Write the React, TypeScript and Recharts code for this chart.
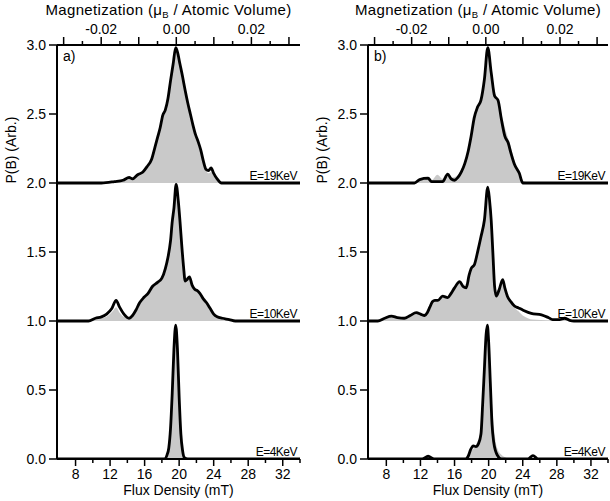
import React from "react";
import { ComposedChart, Area, Line, XAxis, YAxis, ReferenceLine } from "recharts";

type Pt = [number, number];

// axes
const fluxDomain: [number, number] = [5.85, 34];
const fluxTicks = [8, 10, 12, 14, 16, 18, 20, 22, 24, 26, 28, 30, 32, 34];
const fluxLabels = [8, 12, 16, 20, 24, 28, 32];
const magZeroFlux = 19.67; // mT where M = 0
const fluxPerMag = 435; // mT per (muB / atomic volume)
const magTicks = [-0.03, -0.025, -0.02, -0.015, -0.01, -0.005, 0, 0.005, 0.01, 0.015, 0.02, 0.025, 0.03];
const magLabels = [-0.02, 0, 0.02];
const pbTicks = [0, 0.5, 1, 1.5, 2, 2.5, 3];
const energyLabels = ["E=19KeV", "E=10KeV", "E=4KeV"];
const offsets = [2, 1, 0];

// panel a) : gray fill + black measured line, [flux mT, P(B)]
const a19Fill: Pt[] = [[5.85, 0], [11, 0], [12.5, 0.01], [13.5, 0.015], [14.3, 0.03], [15.2, 0.05], [15.8, 0.07], [16.3, 0.11], [16.8, 0.16], [17.2, 0.24], [17.5, 0.32], [17.8, 0.39], [18.1, 0.47], [18.4, 0.52], [18.7, 0.6], [19.0, 0.72], [19.3, 0.85], [19.6, 0.97], [19.8, 0.94], [20.1, 0.85], [20.4, 0.76], [20.7, 0.66], [21.0, 0.57], [21.3, 0.49], [21.6, 0.41], [21.9, 0.34], [22.2, 0.28], [22.5, 0.22], [22.8, 0.15], [23.1, 0.09], [23.4, 0.07], [23.7, 0.08], [24.0, 0.05], [24.4, 0.02], [25.0, 0], [34, 0]];
const a19Line: Pt[] = [[5.85, 0], [11, 0], [12.5, 0.01], [13.5, 0.02], [14.2, 0.04], [14.6, 0.03], [15.2, 0.06], [15.8, 0.08], [16.3, 0.12], [16.8, 0.17], [17.2, 0.26], [17.5, 0.33], [17.8, 0.4], [18.1, 0.49], [18.4, 0.53], [18.7, 0.61], [19.0, 0.74], [19.3, 0.86], [19.6, 0.98], [19.8, 0.95], [20.1, 0.86], [20.4, 0.77], [20.7, 0.67], [21.0, 0.58], [21.3, 0.5], [21.6, 0.42], [21.9, 0.35], [22.2, 0.3], [22.5, 0.24], [22.8, 0.16], [23.1, 0.1], [23.4, 0.09], [23.7, 0.11], [24.0, 0.07], [24.4, 0.03], [24.9, 0], [34, 0]];
const a10Fill: Pt[] = [[5.85, 0], [9, 0], [10, 0.01], [11, 0.02], [11.8, 0.04], [12.3, 0.07], [12.7, 0.1], [13.1, 0.06], [13.6, 0.03], [14.2, 0.02], [14.6, 0.04], [15.0, 0.08], [15.4, 0.12], [15.9, 0.16], [16.4, 0.19], [16.9, 0.24], [17.5, 0.27], [18.0, 0.3], [18.4, 0.37], [18.7, 0.45], [19.0, 0.57], [19.2, 0.71], [19.4, 0.81], [19.65, 0.98], [19.9, 0.86], [20.1, 0.71], [20.3, 0.54], [20.5, 0.39], [20.7, 0.29], [20.9, 0.29], [21.2, 0.31], [21.5, 0.26], [21.8, 0.22], [22.1, 0.21], [22.4, 0.19], [22.8, 0.15], [23.2, 0.12], [23.6, 0.08], [24.0, 0.04], [24.5, 0.02], [25.0, 0.025], [25.5, 0.01], [26.2, 0], [34, 0]];
const a10Line: Pt[] = [[5.85, 0], [8.5, 0], [9.5, 0], [10.3, 0.02], [11, 0.03], [11.6, 0.05], [12.2, 0.09], [12.7, 0.15], [13.1, 0.1], [13.6, 0.05], [14.2, 0.02], [14.6, 0.04], [15.0, 0.08], [15.4, 0.13], [15.9, 0.17], [16.4, 0.2], [16.9, 0.25], [17.5, 0.28], [18.0, 0.31], [18.4, 0.38], [18.7, 0.46], [19.0, 0.58], [19.2, 0.72], [19.4, 0.82], [19.65, 0.99], [19.9, 0.87], [20.1, 0.72], [20.3, 0.55], [20.5, 0.4], [20.7, 0.29], [20.9, 0.3], [21.2, 0.32], [21.5, 0.26], [21.8, 0.23], [22.1, 0.22], [22.4, 0.2], [22.8, 0.16], [23.2, 0.13], [23.6, 0.09], [24.0, 0.05], [24.4, 0.03], [25.0, 0.02], [25.8, 0.01], [26.5, 0], [34, 0]];
const a4Fill: Pt[] = [[5.85, 0], [18.4, 0], [18.7, 0.05], [19.0, 0.25], [19.2, 0.55], [19.4, 0.85], [19.6, 0.97], [19.8, 0.85], [20.0, 0.52], [20.2, 0.22], [20.4, 0.07], [20.7, 0.01], [21, 0], [34, 0]];
const a4Line: Pt[] = [[5.85, 0], [18.3, 0], [18.6, 0.03], [18.8, 0.08], [19.0, 0.22], [19.2, 0.48], [19.4, 0.8], [19.6, 0.97], [19.8, 0.8], [20.0, 0.45], [20.2, 0.18], [20.4, 0.06], [20.6, 0.01], [21, 0], [34, 0]];

// panel b)
const b19Fill: Pt[] = [[5.85, 0], [11, 0], [12, 0.02], [12.8, 0.03], [13.3, 0.02], [14.0, 0.06], [14.6, 0.03], [15.2, 0.05], [15.8, 0.04], [16.4, 0.06], [16.8, 0.1], [17.2, 0.16], [17.6, 0.25], [18.0, 0.36], [18.4, 0.48], [18.8, 0.56], [19.2, 0.64], [19.6, 0.85], [19.9, 0.97], [20.2, 0.85], [20.6, 0.68], [21.0, 0.62], [21.5, 0.5], [22.0, 0.38], [22.5, 0.28], [23.0, 0.17], [23.6, 0.07], [24.2, 0.01], [25, 0], [34, 0]];
const b19Line: Pt[] = [[5.85, 0], [11.3, 0], [11.9, 0.025], [12.9, 0.035], [13.3, 0.01], [14.6, 0.01], [15.2, 0.065], [15.6, 0.03], [16.0, 0.02], [16.4, 0.04], [16.8, 0.08], [17.2, 0.14], [17.6, 0.23], [17.95, 0.34], [18.3, 0.47], [18.7, 0.55], [19.1, 0.6], [19.5, 0.75], [19.9, 0.98], [20.3, 0.8], [20.7, 0.63], [21.1, 0.6], [21.5, 0.46], [21.9, 0.34], [22.3, 0.29], [22.6, 0.22], [23.0, 0.14], [23.6, 0.07], [24.0, 0], [34, 0]];
const b10Fill: Pt[] = [[5.85, 0], [7.0, 0], [7.8, 0.02], [8.6, 0.03], [9.5, 0.02], [10.4, 0.03], [11.0, 0.04], [11.7, 0.07], [12.2, 0.05], [12.8, 0.07], [13.2, 0.11], [13.7, 0.15], [14.2, 0.15], [14.7, 0.17], [15.2, 0.17], [15.7, 0.2], [16.2, 0.25], [16.6, 0.28], [17.0, 0.26], [17.4, 0.27], [17.8, 0.35], [18.2, 0.4], [18.7, 0.5], [19.1, 0.62], [19.5, 0.76], [19.9, 0.97], [20.1, 0.88], [20.3, 0.74], [20.5, 0.52], [20.7, 0.3], [20.9, 0.22], [21.2, 0.24], [21.6, 0.28], [22.0, 0.22], [22.5, 0.15], [23.0, 0.1], [23.5, 0.07], [24.0, 0.04], [24.6, 0.02], [25.2, 0.01], [27, 0.005], [29.2, 0.012], [30, 0], [31, 0.012], [31.8, 0], [34, 0]];
const b10Line: Pt[] = [[5.85, 0], [7.0, 0], [7.8, 0.02], [8.6, 0.035], [9.3, 0.025], [10.1, 0.02], [10.8, 0.04], [11.5, 0.06], [12.0, 0.05], [12.5, 0.04], [12.8, 0.06], [13.1, 0.1], [13.4, 0.14], [13.7, 0.15], [14.05, 0.15], [14.6, 0.18], [15.2, 0.17], [15.6, 0.2], [16.0, 0.24], [16.6, 0.285], [17.0, 0.25], [17.37, 0.24], [17.7, 0.33], [17.95, 0.38], [18.34, 0.41], [18.74, 0.51], [19.1, 0.61], [19.5, 0.73], [19.9, 0.97], [20.1, 0.88], [20.3, 0.73], [20.5, 0.49], [20.7, 0.25], [20.9, 0.18], [21.2, 0.22], [21.65, 0.3], [21.9, 0.24], [22.2, 0.18], [22.6, 0.14], [23.0, 0.11], [23.5, 0.095], [24.0, 0.08], [25.0, 0.055], [26.2, 0.045], [27.0, 0.025], [27.5, 0.01], [28.3, 0.01], [28.9, 0.02], [29.5, 0.005], [30, 0], [34, 0]];
const b4Fill: Pt[] = [[5.85, 0], [12.0, 0], [12.5, 0.01], [13.3, 0.01], [14, 0], [17.0, 0], [17.5, 0.02], [18.0, 0.06], [18.5, 0.1], [19.0, 0.2], [19.3, 0.45], [19.6, 0.8], [19.85, 0.97], [20.1, 0.75], [20.4, 0.4], [20.7, 0.18], [21.0, 0.08], [21.5, 0.03], [22, 0.01], [22.5, 0], [24.5, 0], [25, 0.02], [25.6, 0], [34, 0]];
const b4Line: Pt[] = [[5.85, 0], [12.2, 0], [12.9, 0.02], [13.6, 0], [17.3, 0], [17.6, 0.02], [17.9, 0.07], [18.2, 0.095], [18.5, 0.09], [18.8, 0.11], [19.1, 0.18], [19.3, 0.4], [19.5, 0.65], [19.7, 0.9], [19.85, 0.97], [20.0, 0.85], [20.2, 0.55], [20.4, 0.25], [20.6, 0.12], [20.8, 0.06], [21.0, 0.03], [21.5, 0], [24.6, 0], [25.2, 0.025], [25.8, 0], [34, 0]];

const rows = (pts: Pt[], offset: number) => pts.map(([b, p]) => ({ b, p: p + offset }));
const magDomain = fluxDomain.map((b) => (b - magZeroFlux) / fluxPerMag);
// the top axis has no series of its own; an invisible span gives it a domain
const magSpan = magDomain.map((m) => ({ m, p: 0 }));

const FONT = "'Liberation Sans', Arial, sans-serif";

function FluxTick({ x, y, payload }: any) {
  const major = fluxLabels.includes(payload.value);
  return (
    <g>
      <line x1={x} x2={x} y1={y} y2={y + (major ? 7 : 4)} stroke="#000" strokeWidth={1.5} />
      {major && (
        <text x={x} y={y + 20} textAnchor="middle" fontSize={14} fill="#000">
          {payload.value}
        </text>
      )}
    </g>
  );
}

function MagTick({ x, y, payload }: any) {
  const v: number = payload.value;
  const major = Math.abs(v * 100 - Math.round(v * 100)) < 1e-6;
  const labelled = magLabels.some((m) => Math.abs(m - v) < 1e-9);
  return (
    <g>
      <line x1={x} x2={x} y1={y} y2={y - (major ? 8 : 4)} stroke="#000" strokeWidth={1.5} />
      {labelled && (
        <text x={x} y={y - 11} textAnchor="middle" fontSize={14} fill="#000">
          {Math.abs(v) < 1e-9 ? "0.00" : v.toFixed(2)}
        </text>
      )}
    </g>
  );
}

function MagTitle({ viewBox }: any) {
  const { x, y, width } = viewBox;
  return (
    <text x={x + width / 2 - 10} y={y + 15} textAnchor="middle" fontSize={15} letterSpacing={0.35} fill="#000">
      <tspan>Magnetization (μ</tspan>
      <tspan dy={3} fontSize={9.5}>B</tspan>
      <tspan dy={-3}> / Atomic Volume)</tspan>
    </text>
  );
}

function PbTitle({ viewBox }: any) {
  const { x, y, width, height } = viewBox;
  const cx = x + width - 45.5;
  const cy = y + height * 0.254;
  return (
    <text x={cx} y={cy} transform={`rotate(-90 ${cx} ${cy})`} textAnchor="middle" dominantBaseline="central" fontSize={14} fill="#000">
      P(B) (Arb.)
    </text>
  );
}

function Panel({ tag, fills, lines, yWidth, right }: { tag: string; fills: Pt[][]; lines: Pt[][]; yWidth: number; right: number }) {
  return (
    <ComposedChart width={305} height={501} margin={{ top: 0, right, bottom: 0, left: 0 }}>
      <XAxis
        xAxisId="flux"
        dataKey="b"
        type="number"
        domain={fluxDomain}
        ticks={fluxTicks}
        interval={0}
        allowDataOverflow
        height={42}
        tickSize={0}
        tickMargin={0}
        tickLine={false}
        tick={<FluxTick />}
        axisLine={{ stroke: "#000", strokeWidth: 2 }}
        label={{ value: "Flux Density (mT)", position: "insideBottom", offset: 6, fontSize: 14, fill: "#000" }}
      />
      <XAxis
        xAxisId="mag"
        dataKey="m"
        orientation="top"
        type="number"
        domain={magDomain}
        ticks={magTicks}
        interval={0}
        allowDataOverflow
        height={45}
        tickSize={0}
        tickMargin={0}
        tickLine={false}
        tick={<MagTick />}
        axisLine={{ stroke: "#000", strokeWidth: 2 }}
        label={{ content: <MagTitle /> }}
      />
      <YAxis
        type="number"
        domain={[0, 3]}
        ticks={pbTicks}
        interval={0}
        allowDataOverflow
        width={yWidth}
        tickSize={8}
        tickMargin={3}
        tickFormatter={(v: number) => v.toFixed(1)}
        tick={{ fontSize: 14, fill: "#000" }}
        tickLine={{ stroke: "#000", strokeWidth: 1.5 }}
        axisLine={{ stroke: "#000", strokeWidth: 2 }}
        label={{ content: <PbTitle /> }}
      />
      <Line xAxisId="mag" data={magSpan} dataKey="p" stroke="none" dot={false} isAnimationActive={false} />
      {fills.map((pts, i) => (
        <Area
          key={"f" + i}
          xAxisId="flux"
          data={rows(pts, offsets[i])}
          dataKey="p"
          type="monotone"
          baseValue={offsets[i]}
          fill="#c9c9c9"
          fillOpacity={1}
          stroke="none"
          isAnimationActive={false}
        />
      ))}
      {lines.map((pts, i) => (
        <Line
          key={"l" + i}
          xAxisId="flux"
          data={rows(pts, offsets[i])}
          dataKey="p"
          type="monotone"
          stroke="#000"
          strokeWidth={2.8}
          dot={false}
          isAnimationActive={false}
        />
      ))}
      {offsets.map((o, i) => (
        <ReferenceLine
          key={"r" + i}
          xAxisId="flux"
          y={o}
          stroke="none"
          label={{ value: energyLabels[i], position: "insideBottomRight", offset: 3, fontSize: 12, fill: "#000", letterSpacing: -0.5 }}
        />
      ))}
      <ReferenceLine
        xAxisId="flux"
        y={3}
        stroke="none"
        label={{ value: tag, position: "insideTopLeft", offset: 6, fontSize: 14, fill: "#000" }}
      />
    </ComposedChart>
  );
}

export default function App() {
  return (
    <div style={{ position: "absolute", left: 0, top: 0, width: 610, height: 501, display: "flex", background: "#fff", fontFamily: FONT }}>
      <Panel tag="a)" fills={[a19Fill, a10Fill, a4Fill]} lines={[a19Line, a10Line, a4Line]} yWidth={57} right={5} />
      <Panel tag="b)" fills={[b19Fill, b10Fill, b4Fill]} lines={[b19Line, b10Line, b4Line]} yWidth={63} right={2} />
    </div>
  );
}
